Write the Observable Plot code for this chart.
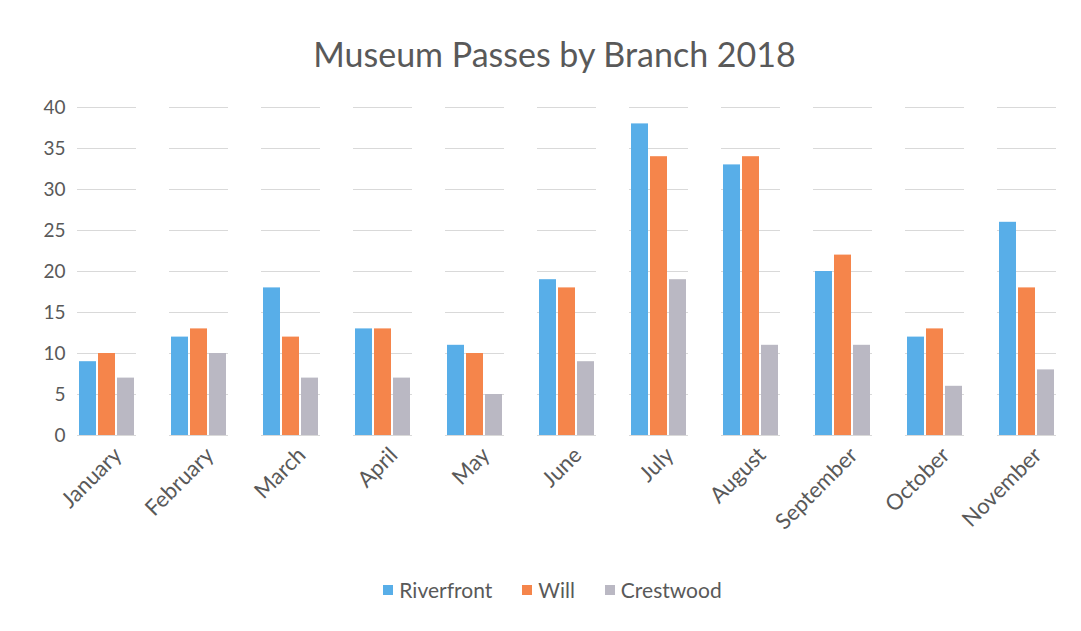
<!DOCTYPE html>
<html>
<head>
<meta charset="utf-8">
<script src="https://cdn.jsdelivr.net/npm/d3@7"></script>
<script src="https://cdn.jsdelivr.net/npm/@observablehq/plot@0.6"></script>
<style>
  html, body { margin: 0; padding: 0; background: #fff; }
  #wrap { width: 1081px; height: 631px; position: relative; font-family: Lato, "Open Sans", sans-serif; color: #595959; overflow: hidden; }
  #title { position: absolute; left: 0; top: 33px; width: 1081px; text-align: center; font-size: 34px; color: #595959; padding-left: 28px; box-sizing: border-box; }
  #chart { position: absolute; left: 0; top: 90px; }
  #legend { position: absolute; left: 0; top: 577px; width: 1081px; display: flex; justify-content: center; gap: 30px; font-size: 21px; color: #595959; padding-left: 24px; box-sizing: border-box; }
  #legend span.item { display: inline-flex; align-items: center; gap: 6px; }
  #legend span.sw { display: inline-block; width: 10px; height: 10px; }
</style>
</head>
<body>
<div id="wrap">
  <div id="title">Museum Passes by Branch 2018</div>
  <div id="chart"></div>
  <div id="legend"></div>
</div>
<script>
const months = ["January","February","March","April","May","June","July","August","September","October","November"];
const branches = ["Riverfront","Will","Crestwood"];
const riverfront = [9, 12, 18, 13, 11, 19, 38, 33, 20, 12, 26];
const will       = [10, 13, 12, 13, 10, 18, 34, 34, 22, 13, 18];
const crestwood  = [7, 10, 7, 7, 5, 9, 19, 11, 11, 6, 8];
const colors = ["#58aee8", "#f5854b", "#bab8c3"];
const yTicks = [0, 5, 10, 15, 20, 25, 30, 35, 40];

const series = [riverfront, will, crestwood];
const rows = [];
months.forEach((m, i) => {
  branches.forEach((b, j) => rows.push({month: m, branch: b, value: series[j][i]}));
});

const chart = Plot.plot({
  width: 1081,
  height: 470,
  marginTop: 17,
  marginBottom: 125,
  marginLeft: 72,
  marginRight: 20,
  style: {fontFamily: "Lato, 'Open Sans', sans-serif", fontSize: "18px", color: "#595959", background: "transparent"},
  fx: {domain: months, padding: 0.36, label: null},
  x: {domain: branches, padding: 0.1, axis: null},
  y: {domain: [0, 40], label: null},
  color: {domain: branches, range: colors},
  marks: [
    Plot.gridY(yTicks, {stroke: "#d9d9d9", strokeOpacity: 1, strokeWidth: 1}),
    Plot.axisY(yTicks, {tickSize: 0, tickPadding: 12, fontSize: 19, fill: "#595959", label: null}),
    Plot.axisFx({anchor: "bottom", tickRotate: -45, tickSize: 0, tickPadding: 16, dx: 11, fontSize: 22, fill: "#595959", label: null}),
    Plot.barY(rows, {fx: "month", x: "branch", y: "value", fill: "branch"})
  ]
});
document.getElementById("chart").appendChild(chart);

const legend = document.getElementById("legend");
branches.forEach((b, j) => {
  const item = document.createElement("span");
  item.className = "item";
  const sw = document.createElement("span");
  sw.className = "sw";
  sw.style.background = colors[j];
  item.appendChild(sw);
  item.appendChild(document.createTextNode(b));
  legend.appendChild(item);
});
</script>
</body>
</html>
